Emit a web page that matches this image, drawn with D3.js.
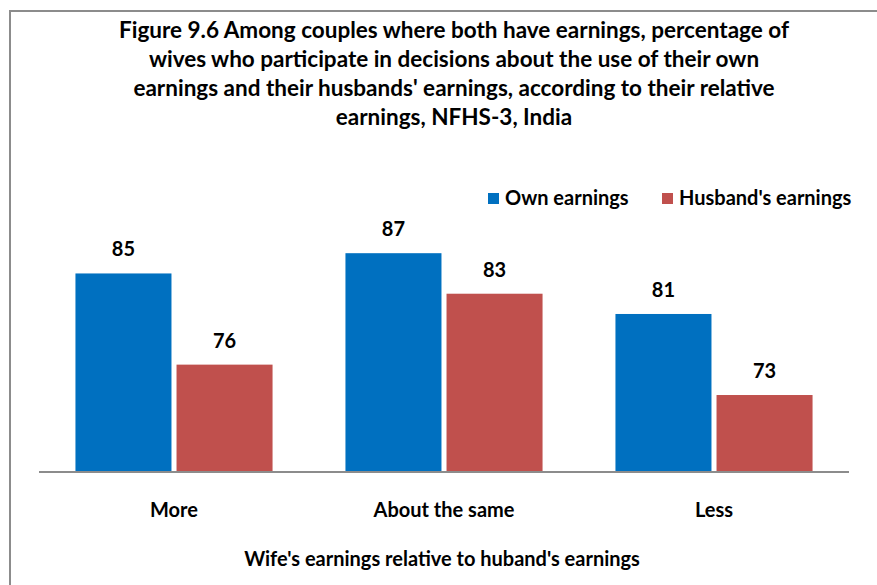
<!DOCTYPE html>
<html>
<head>
<meta charset="utf-8">
<script src="https://cdn.jsdelivr.net/npm/d3@7"></script>
<style>
  html, body { margin: 0; padding: 0; background: #fff; }
  svg { display: block; }
  text { font-family: Lato, "Liberation Sans", sans-serif; font-weight: bold; fill: #000; }
</style>
</head>
<body>
<svg id="chart" width="877" height="585"></svg>
<script>
// Relative earnings groups and the two series
const categories = ["More", "About the same", "Less"];
const seriesNames = ["Own earnings", "Husband's earnings"];
const ownEarnings = [85, 87, 81];
const husbandsEarnings = [76, 83, 73];
const seriesColors = ["#0070c0", "#c0504d"];

const titleLines = [
  "Figure 9.6 Among couples where both have earnings, percentage of",
  "wives who participate in decisions about the use of their own",
  "earnings and their husbands' earnings, according to their relative",
  "earnings, NFHS-3, India"
];
const xAxisTitle = "Wife's earnings relative to huband's earnings";

const rows = categories.map((c, i) => ({
  category: c,
  values: [ownEarnings[i], husbandsEarnings[i]]
}));

const svg = d3.select("#chart");

// Chart frame
svg.append("rect")
  .attr("x", 10).attr("y", 11)
  .attr("width", 900).attr("height", 600)
  .attr("fill", "none")
  .attr("stroke", "#8c8c8c")
  .attr("stroke-width", 2);

// Title
svg.append("g").selectAll("text")
  .data(titleLines)
  .join("text")
  .attr("x", 454)
  .attr("y", (d, i) => 38 + i * 29)
  .attr("text-anchor", "middle")
  .style("font-size", "22.5px")
  .text(d => d);

// Scales
const x0 = d3.scaleBand()
  .domain(categories)
  .range([39, 849])
  .paddingInner(0.27)
  .paddingOuter(0.135);

const x1 = d3.scaleBand()
  .domain(d3.range(seriesNames.length))
  .range([0, x0.bandwidth()])
  .paddingInner(0.05);

const y = d3.scaleLinear()
  .domain([65.5, 90])
  .range([471, 222.8]);

// Bars
const groups = svg.append("g").selectAll("g")
  .data(rows)
  .join("g")
  .attr("transform", d => `translate(${x0(d.category)},0)`);

groups.selectAll("rect")
  .data(d => d.values.map((v, i) => ({ v, i })))
  .join("rect")
  .attr("x", d => x1(d.i))
  .attr("width", x1.bandwidth())
  .attr("y", d => y(d.v))
  .attr("height", d => y.range()[0] - y(d.v))
  .attr("fill", d => seriesColors[d.i]);

// Value labels
groups.selectAll("text")
  .data(d => d.values.map((v, i) => ({ v, i })))
  .join("text")
  .attr("x", d => x1(d.i) + x1.bandwidth() / 2)
  .attr("y", d => y(d.v) - 17)
  .attr("text-anchor", "middle")
  .style("font-size", "20px")
  .text(d => d.v);

// Category axis
const xAxis = svg.append("g")
  .attr("transform", "translate(0,472)")
  .call(d3.axisBottom(x0).tickSize(0).tickPadding(31));
xAxis.select(".domain").attr("stroke", "#8c8c8c").attr("stroke-width", 2)
  .attr("d", "M39,0H849");
xAxis.selectAll(".tick text")
  .style("font-size", "20px")
  .style("font-family", "Lato, \"Liberation Sans\", sans-serif")
  .style("font-weight", "bold")
  .attr("fill", "#000");

// Axis title
svg.append("text")
  .attr("x", 442)
  .attr("y", 566)
  .attr("text-anchor", "middle")
  .style("font-size", "20px")
  .text(xAxisTitle);

// Legend
const legendX = [488, 662];
const legend = svg.append("g").selectAll("g")
  .data(seriesNames)
  .join("g")
  .attr("transform", (d, i) => `translate(${legendX[i]},193)`);
legend.append("rect")
  .attr("width", 11).attr("height", 11)
  .attr("fill", (d, i) => seriesColors[i]);
legend.append("text")
  .attr("x", 17).attr("y", 12)
  .style("font-size", "20px")
  .text(d => d);
</script>
</body>
</html>
